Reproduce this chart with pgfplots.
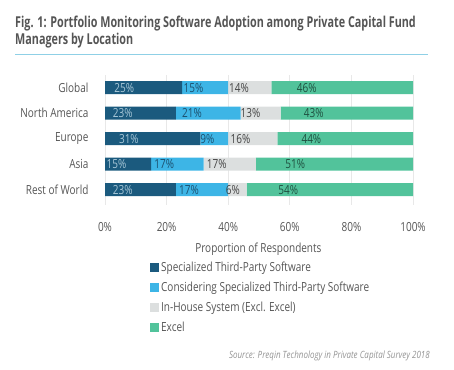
\documentclass[border=0pt]{standalone}
\usepackage{fontspec}
\setmainfont{Open Sans}[FakeStretch=0.8]
\newfontfamily\titlefont{Open Sans}[FakeStretch=0.72]
\usepackage{pgfplots}
\pgfplotsset{compat=1.18}
\definecolor{cDark}{HTML}{1B5A7E}
\definecolor{cLight}{HTML}{3DB5E6}
\definecolor{cGray}{HTML}{DCDFDF}
\definecolor{cGreen}{HTML}{52C39B}
\definecolor{tDark}{HTML}{A9C8D8}
\definecolor{tLight}{HTML}{1C4F6E}
\definecolor{tGray}{HTML}{444444}
\definecolor{tGreen}{HTML}{1F5040}
\definecolor{txt}{HTML}{555555}
\definecolor{rule}{HTML}{8FD0E6}
\begin{document}
\begin{tikzpicture}
\path[use as bounding box] (0pt,0pt) rectangle (454pt,369pt);
\node[anchor=north west, align=left, text=txt, inner sep=0pt,
      font=\titlefont\fontsize{15}{16.5}\selectfont\bfseries] at (15pt,353pt)
  {Fig. 1: Portfolio Monitoring Software Adoption among Private Capital Fund\\Managers by Location};
\draw[rule, line width=1pt] (15pt,314pt) -- (428pt,314pt);
\begin{axis}[
  at={(105pt,164pt)}, anchor=south west,
  scale only axis, width=308pt, height=130pt,
  xbar stacked, bar width=13pt,
  xmin=0, xmax=100, ymin=-0.5, ymax=4.6, y dir=reverse,
  ytick={0,1,2,3,4},
  yticklabels={Global,North America,Europe,Asia,Rest of World},
  xtick={0,20,40,60,80,100},
  xticklabels={0\%,20\%,40\%,60\%,80\%,100\%},
  axis line style={draw=none}, major tick length=0pt,
  xmajorgrids, grid style={draw=gray!18, line width=0.8pt},
  ticklabel style={font=\fontsize{12.5}{14}\selectfont, text=txt},
  xticklabel style={yshift=-14pt},
  yticklabel style={xshift=-13pt},
  xlabel={Proportion of Respondents},
  xlabel style={at={(0.498,-0.34)}, anchor=center, font=\fontsize{12.5}{14}\selectfont, text=txt},
  /pgf/number format/assume math mode=true,
  visualization depends on=rawx \as \rawx,
  nodes near coords={\pgfmathprintnumber{\rawx}\%},
  every node near coord/.append style={anchor=center, xshift={-0.77pt*\rawx}, font=\fontsize{12.5}{14}\selectfont},
  legend style={draw=none, fill=none, at={(0.146,-0.42)}, anchor=north west,
    font=\fontsize{12.5}{14}\selectfont, text=txt, row sep=5pt, inner sep=0pt,
    cells={anchor=west}},
  legend cell align=left,
  legend image code/.code={\fill[#1] (0pt,-4.5pt) rectangle (9pt,4.5pt);},
]
\addplot[fill=cDark, draw=none, every node near coord/.append style={text=tDark}]
  coordinates {(25,0) (23,1) (31,2) (15,3) (23,4)};
\addplot[fill=cLight, draw=none, every node near coord/.append style={text=tLight}]
  coordinates {(15,0) (21,1) (9,2) (17,3) (17,4)};
\addplot[fill=cGray, draw=none, every node near coord/.append style={text=tGray}]
  coordinates {(14,0) (13,1) (16,2) (17,3) (6,4)};
\addplot[fill=cGreen, draw=none, every node near coord/.append style={text=tGreen}]
  coordinates {(46,0) (43,1) (44,2) (51,3) (54,4)};
\legend{Specialized Third-Party Software,Considering Specialized Third-Party Software,In-House System (Excl. Excel),Excel}
\end{axis}
\node[anchor=east, inner sep=0pt, text=gray!85, font=\fontsize{10}{12}\selectfont\itshape] at (430pt,13pt)
  {Source: Preqin Technology in Private Capital Survey 2018};
\end{tikzpicture}
\end{document}
